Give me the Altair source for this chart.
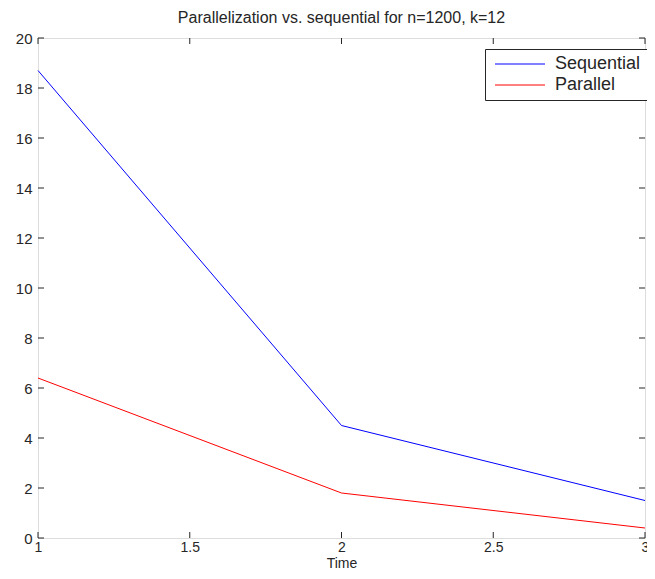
import altair as alt
import pandas as pd

# data
times = [1, 2, 3]
sequential = [18.7, 4.5, 1.5]
parallel = [6.4, 1.8, 0.4]
series_names = ["Sequential", "Parallel"]
series_colors = ["#0000ff", "#ff0000"]
x_ticks = [1, 1.5, 2, 2.5, 3]
y_ticks = [0, 2, 4, 6, 8, 10, 12, 14, 16, 18, 20]

rows = []
for t, v in zip(times, sequential):
    rows.append({"Time": t, "Value": v, "Series": "Sequential"})
for t, v in zip(times, parallel):
    rows.append({"Time": t, "Value": v, "Series": "Parallel"})
df = pd.DataFrame(rows)
xt = pd.DataFrame({"t": x_ticks})
yt = pd.DataFrame({"v": y_ticks})

W, H = 607, 500
TL = 6
FONT = "Liberation Sans"
INK = "#262626"

xscale = alt.Scale(domain=[1, 3], nice=False, zero=False)
yscale = alt.Scale(domain=[0, 20], nice=False)

lines = alt.Chart(df).mark_line(strokeWidth=1).encode(
    x=alt.X("Time:Q", scale=xscale,
            axis=alt.Axis(values=x_ticks, format="~g", title="Time", ticks=False, domain=False, grid=False,
                          labelFontSize=14, labelPadding=2, titleFontSize=14, titleFontWeight="normal",
                          titlePadding=2, labelFont=FONT, titleFont=FONT, labelColor=INK, titleColor=INK,
                          labelFlush=False)),
    y=alt.Y("Value:Q", scale=yscale,
            axis=alt.Axis(values=y_ticks, title=None, ticks=False, domain=False, grid=False,
                          labelFontSize=15, labelPadding=6, labelFont=FONT, labelColor=INK)),
    color=alt.Color("Series:N",
                    scale=alt.Scale(domain=series_names, range=series_colors),
                    legend=alt.Legend(title=None, orient="none", legendX=447, legendY=11,
                                      symbolType="M-5,0H5", symbolSize=100, symbolStrokeWidth=1,
                                      symbolOffset=20, labelOffset=26,
                                      labelFontSize=18, labelFont=FONT, labelColor=INK,
                                      rowPadding=3, padding=6,
                                      strokeColor=INK, fillColor="white", cornerRadius=0)),
    detail="Series:N",
)

xb = alt.Chart(xt).mark_rule(color=INK, strokeWidth=1).encode(
    x=alt.X("t:Q", scale=xscale), y=alt.value(H), y2=alt.value(H - TL))
xtop = alt.Chart(xt).mark_rule(color=INK, strokeWidth=1).encode(
    x=alt.X("t:Q", scale=xscale), y=alt.value(0), y2=alt.value(TL))
yl = alt.Chart(yt).mark_rule(color=INK, strokeWidth=1).encode(
    y=alt.Y("v:Q", scale=yscale), x=alt.value(0), x2=alt.value(TL))
yr = alt.Chart(yt).mark_rule(color=INK, strokeWidth=1).encode(
    y=alt.Y("v:Q", scale=yscale), x=alt.value(W), x2=alt.value(W - TL))

chart = alt.layer(lines, xb, xtop, yl, yr).properties(
    width=W, height=H,
    title=alt.TitleParams("Parallelization vs. sequential for n=1200, k=12", fontSize=16,
                          fontWeight="normal", font=FONT, color=INK, offset=5),
    autosize=alt.AutoSizeParams(type="none"),
    padding={"left": 30, "top": 30, "right": 2, "bottom": 33},
).configure_view(stroke=INK, strokeWidth=1).configure(background="white")

chart.save("out.html", embed_options={"renderer": "svg", "actions": False})
